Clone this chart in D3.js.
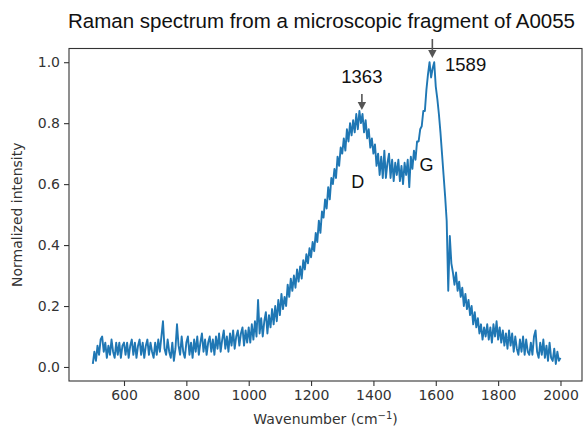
<!DOCTYPE html>
<html>
<head>
<meta charset="utf-8">
<script src="https://cdn.jsdelivr.net/npm/d3@7"></script>
<style>
  html, body { margin: 0; padding: 0; background: #fff; }
  svg { display: block; }
</style>
</head>
<body>
<svg id="chart" width="583" height="432"></svg>
<script>
// ---- data ----
const waveStart = 500;
const waveStep = 5;
const intensity = [
  // 500-600
  0.01, 0.05, 0.02, 0.07, 0.04, 0.09, 0.10, 0.05, 0.08, 0.03, 0.07, 0.04, 0.09, 0.05, 0.03, 0.08, 0.04, 0.08, 0.03, 0.07, 0.08,
  // 605-700
  0.04, 0.08, 0.03, 0.07, 0.09, 0.04, 0.08, 0.03, 0.07, 0.09, 0.04, 0.08, 0.03, 0.07, 0.09, 0.04, 0.08, 0.05, 0.03, 0.08,
  // 705-800
  0.04, 0.09, 0.05, 0.10, 0.15, 0.06, 0.04, 0.09, 0.05, 0.03, 0.08, 0.02, 0.06, 0.14, 0.07, 0.04, 0.10, 0.05, 0.03, 0.08,
  // 805-900
  0.10, 0.04, 0.08, 0.03, 0.09, 0.05, 0.10, 0.04, 0.08, 0.11, 0.05, 0.09, 0.04, 0.08, 0.10, 0.05, 0.09, 0.04, 0.10, 0.06,
  // 905-1000
  0.11, 0.05, 0.09, 0.12, 0.06, 0.10, 0.05, 0.11, 0.07, 0.12, 0.06, 0.10, 0.12, 0.07, 0.11, 0.13, 0.07, 0.12, 0.08, 0.13,
  // 1005-1100
  0.08, 0.14, 0.09, 0.15, 0.10, 0.22, 0.11, 0.16, 0.10, 0.15, 0.18, 0.11, 0.17, 0.13, 0.19, 0.14, 0.20, 0.15, 0.22, 0.17,
  // 1105-1200
  0.24, 0.19, 0.23, 0.20, 0.27, 0.23, 0.29, 0.25, 0.30, 0.26, 0.32, 0.28, 0.33, 0.29, 0.35, 0.32, 0.37, 0.34, 0.39, 0.36,
  // 1205-1300
  0.41, 0.38, 0.44, 0.41, 0.48, 0.44, 0.51, 0.49, 0.55, 0.52, 0.59, 0.55, 0.62, 0.60, 0.65, 0.62, 0.69, 0.66, 0.72, 0.70,
  // 1305-1400
  0.75, 0.71, 0.78, 0.74, 0.80, 0.76, 0.81, 0.77, 0.83, 0.78, 0.84, 0.80, 0.83, 0.77, 0.81, 0.75, 0.78, 0.72, 0.75, 0.70,
  // 1405-1500
  0.73, 0.66, 0.70, 0.63, 0.69, 0.62, 0.71, 0.62, 0.67, 0.70, 0.62, 0.68, 0.61, 0.67, 0.63, 0.68, 0.61, 0.66, 0.60, 0.67,
  // 1505-1600
  0.63, 0.68, 0.59, 0.69, 0.65, 0.71, 0.68, 0.74, 0.74, 0.78, 0.79, 0.84, 0.84, 0.91, 0.96, 1.00, 0.95, 0.98, 1.00, 0.92,
  // 1605-1700
  0.88, 0.83, 0.77, 0.70, 0.63, 0.56, 0.48, 0.25, 0.43, 0.34, 0.31, 0.27, 0.31, 0.25, 0.28, 0.23, 0.26, 0.20, 0.24, 0.19,
  // 1705-1800
  0.22, 0.17, 0.20, 0.14, 0.18, 0.13, 0.16, 0.11, 0.14, 0.09, 0.13, 0.10, 0.14, 0.09, 0.13, 0.08, 0.14, 0.10, 0.15, 0.09,
  // 1805-1900
  0.13, 0.08, 0.12, 0.07, 0.11, 0.06, 0.12, 0.07, 0.11, 0.05, 0.10, 0.06, 0.04, 0.09, 0.05, 0.10, 0.04, 0.09, 0.05, 0.04,
  // 1905-2000
  0.08, 0.04, 0.10, 0.12, 0.05, 0.03, 0.08, 0.04, 0.09, 0.03, 0.07, 0.02, 0.08, 0.03, 0.02, 0.06, 0.01, 0.05, 0.02, 0.03
];
const xTicks = [600, 800, 1000, 1200, 1400, 1600, 1800, 2000];
const yTicks = [0.0, 0.2, 0.4, 0.6, 0.8, 1.0];
const peakWavenumbers = [1363, 1589];
const peakLabels = ["1363", "1589"];
const bandLabels = ["D", "G"];
const titleText = "Raman spectrum from a microscopic fragment of A0055";
const xLabel = "Wavenumber (cm";
const yLabel = "Normalized intensity";

// ---- layout ----
const svg = d3.select("#chart");
const mLeft = 69, mRight = 582, mTop = 48.5, mBottom = 381;

const x = d3.scaleLinear().domain([423.6, 2069]).range([mLeft, mRight]);
const y = d3.scaleLinear().domain([-0.046, 1.045]).range([mBottom, mTop]);

const points = intensity.map((v, i) => [waveStart + i * waveStep, v]);

// line
svg.append("path")
  .datum(points)
  .attr("fill", "none")
  .attr("stroke", "#1f77b4")
  .attr("stroke-width", 1.9)
  .attr("stroke-linejoin", "round")
  .attr("d", d3.line().x(d => x(d[0])).y(d => y(d[1])));

// axes
const tickFont = "DejaVu Sans, sans-serif";
const xAxis = svg.append("g")
  .attr("transform", `translate(0,${mBottom})`)
  .call(d3.axisBottom(x).tickValues(xTicks).tickSize(5).tickPadding(4).tickFormat(d3.format("d")));
const yAxis = svg.append("g")
  .attr("transform", `translate(${mLeft},0)`)
  .call(d3.axisLeft(y).tickValues(yTicks).tickSize(5).tickPadding(4).tickFormat(d3.format(".1f")));
[xAxis, yAxis].forEach(g => {
  g.select(".domain").remove();
  g.selectAll(".tick line").attr("stroke", "#333").attr("stroke-width", 1.1);
  g.selectAll(".tick text").attr("fill", "#333").style("font-family", tickFont).style("font-size", "14px");
});

// frame
svg.append("rect")
  .attr("x", mLeft).attr("y", mTop)
  .attr("width", mRight - mLeft).attr("height", mBottom - mTop)
  .attr("fill", "none").attr("stroke", "#333").attr("stroke-width", 1.1);

// axis labels
const xl = svg.append("text")
  .attr("x", (mLeft + mRight) / 2).attr("y", 424)
  .attr("text-anchor", "middle")
  .attr("fill", "#333")
  .style("font-family", tickFont).style("font-size", "14px");
xl.append("tspan").text(xLabel);
xl.append("tspan").attr("dy", -5).style("font-size", "10px").text("\u22121");
xl.append("tspan").attr("dy", 5).text(")");

svg.append("text")
  .attr("transform", `translate(22,${(mTop + mBottom) / 2}) rotate(-90)`)
  .attr("text-anchor", "middle")
  .attr("fill", "#333")
  .style("font-family", tickFont).style("font-size", "14px")
  .text(yLabel);

// title
svg.append("text")
  .attr("x", 321.5).attr("y", 28)
  .attr("text-anchor", "middle")
  .attr("fill", "#111")
  .style("font-family", "Liberation Sans, Arial, sans-serif").style("font-size", "20.5px")
  .text(titleText);

// annotations
const annFont = "Liberation Sans, Arial, sans-serif";
const arrowColor = "#555";
function arrow(px, yStart, yTip) {
  const headLen = 8, halfW = 4.2;
  svg.append("line")
    .attr("x1", px).attr("x2", px)
    .attr("y1", yStart).attr("y2", yTip - headLen + 1)
    .attr("stroke", arrowColor).attr("stroke-width", 1.6);
  svg.append("path")
    .attr("d", `M${px - halfW},${yTip - headLen} L${px + halfW},${yTip - headLen} L${px},${yTip} Z`)
    .attr("fill", arrowColor);
}
// D peak (1363)
arrow(x(peakWavenumbers[0]), 94, 110);
svg.append("text")
  .attr("x", x(peakWavenumbers[0])).attr("y", 82.5)
  .attr("text-anchor", "middle")
  .style("font-family", annFont).style("font-size", "18.5px").attr("fill", "#111")
  .text(peakLabels[0]);
// G peak (1589)
arrow(x(peakWavenumbers[1]), 39, 58);
svg.append("text")
  .attr("x", x(peakWavenumbers[1]) + 12.7).attr("y", 71)
  .attr("text-anchor", "start")
  .style("font-family", annFont).style("font-size", "18.5px").attr("fill", "#111")
  .text(peakLabels[1]);
// band letters
svg.append("text")
  .attr("x", x(1350)).attr("y", 188)
  .attr("text-anchor", "middle")
  .style("font-family", annFont).style("font-size", "18px").attr("fill", "#111")
  .text(bandLabels[0]);
svg.append("text")
  .attr("x", x(1570)).attr("y", 171)
  .attr("text-anchor", "middle")
  .style("font-family", annFont).style("font-size", "18px").attr("fill", "#111")
  .text(bandLabels[1]);
</script>
</body>
</html>
